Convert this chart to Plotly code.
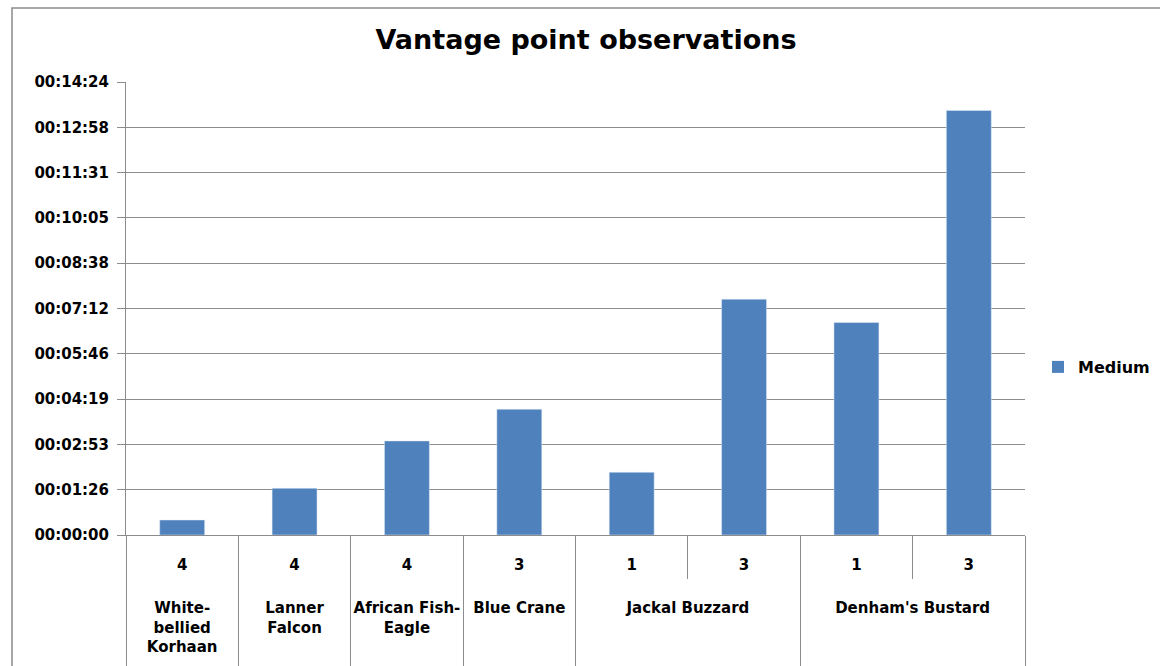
import plotly.graph_objects as go

# ---- data ----
species = ["White-<br>bellied<br>Korhaan", "Lanner<br>Falcon", "African Fish-<br>Eagle",
           "Blue Crane", "Jackal Buzzard", "Jackal Buzzard",
           "Denham's Bustard", "Denham's Bustard"]
counts = ["4", "4", "4", "3", "1", "3", "1", "3"]
durations_s = [28.6, 89.1, 179.4, 239.9, 119.6, 449.8, 405.2, 809.8]  # seconds
y_tick_seconds = [0, 86.4, 172.8, 259.2, 345.6, 432.0, 518.4, 604.8, 691.2, 777.6, 864.0]
y_tick_labels = ["00:00:00", "00:01:26", "00:02:53", "00:04:19", "00:05:46", "00:07:12",
                 "00:08:38", "00:10:05", "00:11:31", "00:12:58", "00:14:24"]
series_name = "Medium"

BAR = "#4F81BD"
GRID = "#8C8C8C"
FONT = "DejaVu Sans"

W, H = 1160, 666
L, R, T, B = 126, 1160 - 1025, 82, 666 - 535

# inner-level labels: padded with invisible blank lines (for vertical spacing);
# the trailing padding differs per bar so the order of the bars is kept as given
inner_labels = ["\u00a0<br>" + c + "<br>" + "\u00a0" * (i + 1) for i, c in enumerate(counts)]
# outer-level labels: one extra invisible line so the group dividers run to the bottom edge
outer_labels = [s + "<br>\u00a0" for s in species]

fig = go.Figure()
fig.add_trace(go.Bar(x=[outer_labels, inner_labels], y=durations_s, name=series_name,
                     marker=dict(color=BAR, line=dict(width=0)), showlegend=True,
                     hoverinfo="y"))
# invisible copy on an overlay axis to draw the short boundary ticks
fig.add_trace(go.Bar(x=[outer_labels, inner_labels], y=durations_s, xaxis="x2",
                     marker=dict(color="rgba(0,0,0,0)"), showlegend=False, hoverinfo="skip"))

tickfont = dict(family=FONT, size=15, color="black", weight="bold")

fig.update_layout(
    width=W, height=H,
    margin=dict(l=L, r=R, t=T, b=B, pad=0, autoexpand=False),
    paper_bgcolor="white", plot_bgcolor="white",
    bargap=0.6,
    font=dict(family=FONT, size=15, color="black"),
    title=dict(text="<b>Vantage point observations</b>",
               font=dict(family=FONT, size=27, color="black"),
               x=586 / W, xanchor="center", xref="container",
               y=(H - 40) / H, yanchor="middle", yref="container"),
    showlegend=True,
    legend=dict(x=(1038 - L) / (W - L - R), y=(535 - 367) / (535 - 82),
                xanchor="left", yanchor="middle", itemwidth=30,
                font=dict(family=FONT, size=16, color="black", weight="bold"),
                bgcolor="rgba(0,0,0,0)"),
    xaxis=dict(type="multicategory", showline=True, linecolor=GRID, linewidth=1,
               ticks="", showgrid=False, automargin=False,
               showdividers=True, dividercolor=GRID, dividerwidth=1,
               tickfont=tickfont, ticklabelstandoff=-4),
    xaxis2=dict(type="multicategory", overlaying="x", matches="x", anchor="y",
                showticklabels=False, ticks="outside", tickson="boundaries",
                ticklen=43, tickcolor=GRID, tickwidth=1, showgrid=False,
                showline=False, showdividers=False, automargin=False),
    yaxis=dict(range=[0, 864], tickvals=y_tick_seconds, ticktext=y_tick_labels,
               showgrid=True, gridcolor=GRID, gridwidth=1,
               showline=True, linecolor=GRID, linewidth=1,
               ticks="outside", ticklen=8, tickcolor=GRID,
               zeroline=False, automargin=False, ticklabelstandoff=5,
               tickfont=tickfont),
)

# outer chart-area border (top and left visible)
fig.add_shape(type="rect", xref="paper", yref="paper",
              x0=(12 - L) / (W - L - R), x1=1.3,
              y0=-0.5, y1=1 + (T - 8) / (H - T - B),
              line=dict(color="#8A8A8A", width=1.5), fillcolor="rgba(0,0,0,0)", layer="below")

fig.write_html("out.html", config={"displayModeBar": False},
               post_script="document.body.style.margin='0px';")
